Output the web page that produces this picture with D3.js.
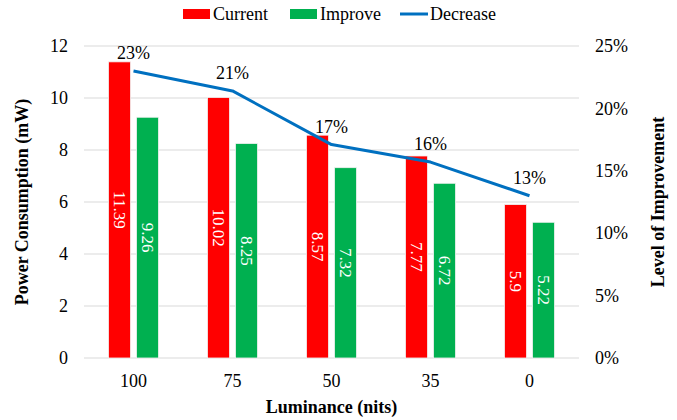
<!DOCTYPE html>
<html><head><meta charset="utf-8">
<script src="https://cdn.jsdelivr.net/npm/d3@7"></script>
<style>body{margin:0;background:#fff}svg{display:block}</style>
</head><body><svg id="c" width="677" height="420"></svg>
<script>
const categories = ["100","75","50","35","0"];
const current = [11.39,10.02,8.57,7.77,5.9];
const improve = [9.26,8.25,7.32,6.72,5.22];
const decrease = [0.23,0.214,0.171,0.157,0.13];
const leftTicks = [0,2,4,6,8,10,12];
const rightTicks = [0,0.05,0.10,0.15,0.20,0.25];

const svg = d3.select("#c");
const F = "\"Liberation Serif\"";
const m = {l:84, r:579, t:46, b:358};
const x = d3.scaleBand().domain(categories).range([m.l,m.r]);
const y = d3.scaleLinear().domain([0,12]).range([m.b,m.t]);
const y2 = d3.scaleLinear().domain([0,0.25]).range([m.b,m.t]);
const barW = 22, gap = 6;
const off = (x.bandwidth() - (2*barW+gap))/2;

svg.append("g").selectAll("line").data(leftTicks).join("line")
  .attr("x1",m.l).attr("x2",m.r).attr("y1",d=>y(d)).attr("y2",d=>y(d))
  .attr("stroke","#d9d9d9").attr("stroke-width",1);

const la = svg.append("g").attr("transform",`translate(${m.l-16},0)`)
  .call(d3.axisLeft(y).tickValues(leftTicks).tickSize(0).tickPadding(0));
la.attr("font-family",null).attr("font-size",null);
la.select(".domain").remove();
la.selectAll("text").style("font-family",F).style("font-size","18px").attr("fill","#000");

const ra = svg.append("g").attr("transform",`translate(${m.r+16},0)`)
  .call(d3.axisRight(y2).tickValues(rightTicks).tickFormat(d3.format(".0%")).tickSize(0).tickPadding(0));
ra.attr("font-family",null).attr("font-size",null);
ra.select(".domain").remove();
ra.selectAll("text").style("font-family",F).style("font-size","18px").attr("fill","#000");

const xa = svg.append("g").attr("transform",`translate(0,${m.b+16})`)
  .call(d3.axisBottom(x).tickSize(0).tickPadding(0));
xa.attr("font-family",null).attr("font-size",null);
xa.select(".domain").remove();
xa.selectAll("text").style("font-family",F).style("font-size","18px").attr("fill","#000").attr("dy","0.71em");

const series = [{name:"Current",vals:current,color:"#ff0000",i:0},{name:"Improve",vals:improve,color:"#00b050",i:1}];
series.forEach(s=>{
  const g = svg.append("g");
  g.selectAll("rect").data(s.vals).join("rect")
    .attr("x",(d,j)=>x(categories[j])+off+s.i*(barW+gap))
    .attr("y",d=>y(d)).attr("width",barW).attr("height",d=>y(0)-y(d))
    .attr("fill",s.color).attr("stroke","#f2f2f2").attr("stroke-width",0.8);
  g.selectAll("text").data(s.vals).join("text")
    .attr("transform",(d,j)=>{
      const cx = x(categories[j])+off+s.i*(barW+gap)+barW/2;
      const cy = (y(d)+y(0))/2;
      return `translate(${cx},${cy}) rotate(90)`;})
    .attr("text-anchor","middle").attr("dy","0.35em")
    .style("font-family",F).style("font-size","17px").attr("fill","#fff")
    .text(d=>d);
});

const cxm = c => x(c)+x.bandwidth()/2;
svg.append("path").datum(decrease)
  .attr("d",d3.line().x((d,j)=>cxm(categories[j])).y(d=>y2(d)))
  .attr("fill","none").attr("stroke","#0070c0").attr("stroke-width",3).attr("stroke-linejoin","round");
svg.append("g").selectAll("text").data(decrease).join("text")
  .attr("x",(d,j)=>cxm(categories[j])).attr("y",d=>y2(d)-12)
  .attr("text-anchor","middle").style("font-family",F).style("font-size","18px").attr("fill","#000")
  .text(d=>d3.format(".0%")(d));

svg.append("text").attr("transform",`translate(28,${(m.t+m.b)/2}) rotate(-90)`)
  .attr("text-anchor","middle").style("font-family",F).style("font-weight","bold").style("font-size","18px")
  .text("Power Consumption (mW)");
svg.append("text").attr("transform",`translate(664,${(m.t+m.b)/2}) rotate(-90)`)
  .attr("text-anchor","middle").style("font-family",F).style("font-weight","bold").style("font-size","18px")
  .text("Level of Improvement");
svg.append("text").attr("x",(m.l+m.r)/2).attr("y",413)
  .attr("text-anchor","middle").style("font-family",F).style("font-weight","bold").style("font-size","18px")
  .text("Luminance (nits)");

const lg = svg.append("g");
const items = [{n:"Current",c:"#ff0000",t:"rect",x:183},{n:"Improve",c:"#00b050",t:"rect",x:290},{n:"Decrease",c:"#0070c0",t:"line",x:400}];
items.forEach(it=>{
  if(it.t==="rect") lg.append("rect").attr("x",it.x).attr("y",9).attr("width",27).attr("height",10).attr("fill",it.c);
  else lg.append("line").attr("x1",it.x).attr("x2",it.x+28).attr("y1",14).attr("y2",14).attr("stroke",it.c).attr("stroke-width",3);
  lg.append("text").attr("x",it.x+30).attr("y",14).attr("dy","0.35em").style("font-family",F).style("font-size","18px").text(it.n);
});
</script></body></html>
